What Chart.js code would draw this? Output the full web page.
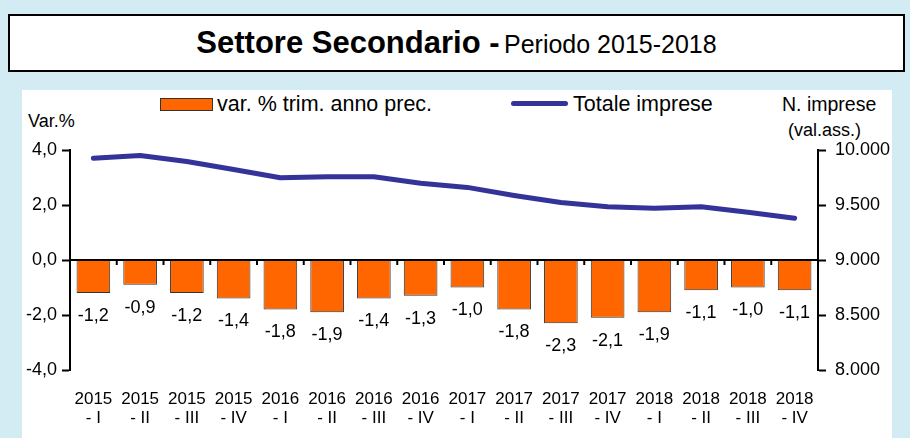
<!DOCTYPE html>
<html>
<head>
<meta charset="utf-8">
<script src="https://cdn.jsdelivr.net/npm/chart.js@4/dist/chart.umd.min.js"></script>
<style>
  html, body { margin: 0; padding: 0; }
  body { width: 910px; height: 438px; background: #d3ebf2; position: relative; overflow: hidden;
         font-family: "Liberation Sans", Arial, sans-serif; color: #000; }
  #titlebox { position: absolute; left: 8px; top: 14px; width: 893px; height: 54px;
              background: #fff; border: 2px solid #000; text-align: center; line-height: 54px; white-space: nowrap; }
  #titlebox b { font-size: 31px; font-weight: bold; }
  #titlebox span { font-size: 25px; }
  #panel { position: absolute; left: 22px; top: 90px; width: 870px; height: 348px; background: #fff; }
  canvas#c { position: absolute; left: 0; top: 0; }
  .txt { position: absolute; white-space: nowrap; line-height: 1; }
  #legBar { position: absolute; left: 160px; top: 98px; width: 51px; height: 11px; background: #ff6600; border: 1px solid #333; }
  #legLine { position: absolute; left: 511px; top: 101px; width: 57px; height: 5px; background: #333399; border-radius: 3px; }
</style>
</head>
<body>
<div id="titlebox"><b>Settore Secondario -</b> <span>Periodo 2015-2018</span></div>
<div id="panel"></div>
<div id="legBar"></div>
<div class="txt" style="left:217px; top:94px; font-size:21.5px;">var. % trim. anno prec.</div>
<div id="legLine"></div>
<div class="txt" style="left:573px; top:94px; font-size:21.5px;">Totale imprese</div>
<div class="txt" style="left:28px; top:112px; font-size:18px;">Var.%</div>
<div class="txt" style="left:782px; top:95px; font-size:19.5px;">N. imprese</div>
<div class="txt" style="left:788px; top:121px; font-size:18px;">(val.ass.)</div>
<canvas id="c" width="910" height="438"></canvas>
<script>
const years = ['2015','2015','2015','2015','2016','2016','2016','2016','2017','2017','2017','2017','2018','2018','2018','2018'];
const quarters = ['I','II','III','IV','I','II','III','IV','I','II','III','IV','I','II','III','IV'];
const varPerc = [-1.2, -0.9, -1.2, -1.4, -1.8, -1.9, -1.4, -1.3, -1.0, -1.8, -2.3, -2.1, -1.9, -1.1, -1.0, -1.1];
const totaleImprese = [9925, 9950, 9895, 9823, 9748, 9757, 9756, 9697, 9660, 9587, 9522, 9485, 9470, 9485, 9435, 9380];
const leftTicks = [-4, -2, 0, 2, 4];
const rightTicks = [8000, 8500, 9000, 9500, 10000];

const labels = years.map((y, i) => [y, '- ' + quarters[i]]);
const FONT = '"Liberation Sans", Arial, sans-serif';

function fmtThousands(v) {
  return String(Math.round(v)).replace(/\B(?=(\d{3})+(?!\d))/g, '.');
}

const extras = {
  id: 'extras',
  afterDatasetsDraw(chart) {
    const ctx = chart.ctx;
    const x = chart.scales.x, y = chart.scales.y;
    const y0 = y.getPixelForValue(0);
    ctx.save();
    ctx.strokeStyle = '#000';
    ctx.lineWidth = 2;
    ctx.beginPath();
    ctx.moveTo(chart.chartArea.left, y0);
    ctx.lineTo(chart.chartArea.right, y0);
    ctx.stroke();
    for (let i = 1; i < labels.length; i++) {
      const xb = (x.getPixelForValue(i - 1) + x.getPixelForValue(i)) / 2;
      ctx.beginPath();
      ctx.moveTo(xb, y0);
      ctx.lineTo(xb, y0 + 5);
      ctx.stroke();
    }
    const meta = chart.getDatasetMeta(1);
    ctx.fillStyle = '#000';
    ctx.font = '18px ' + FONT;
    ctx.textAlign = 'center';
    ctx.textBaseline = 'middle';
    meta.data.forEach((bar, i) => {
      ctx.fillText(varPerc[i].toFixed(1).replace('.', ','), bar.x, bar.y + 23);
    });
    ctx.restore();
  }
};

new Chart(document.getElementById('c'), {
  data: {
    labels: labels,
    datasets: [
      {
        type: 'line',
        label: 'Totale imprese',
        data: totaleImprese,
        yAxisID: 'y2',
        borderColor: '#333399',
        borderWidth: 5,
        pointRadius: 0,
        tension: 0,
        borderCapStyle: 'round',
        borderJoinStyle: 'round',
        order: 0
      },
      {
        type: 'bar',
        label: 'var. % trim. anno prec.',
        data: varPerc,
        yAxisID: 'y',
        backgroundColor: '#ff6600',
        borderColor: '#333333',
        borderWidth: 1,
        categoryPercentage: 1,
        barPercentage: 0.72,
        order: 1
      }
    ]
  },
  options: {
    responsive: false,
    animation: false,
    layout: { padding: { top: 150, left: 0, right: 0, bottom: 0 } },
    plugins: { legend: { display: false }, tooltip: { enabled: false }, title: { display: false } },
    scales: {
      x: {
        grid: { display: false, drawTicks: false },
        border: { display: false },
        ticks: { color: '#000', font: { family: FONT, size: 17, lineHeight: 1.12 }, padding: 20, maxRotation: 0, autoSkip: false },
        afterFit(s) { s.height = 68; }
      },
      y: {
        position: 'left',
        min: -4, max: 4,
        afterBuildTicks(s) { s.ticks = leftTicks.map(v => ({ value: v })); },
        grid: { display: true, drawOnChartArea: false, drawTicks: true, tickLength: 8, tickColor: '#000', tickWidth: 2 },
        border: { display: true, color: '#000', width: 2 },
        ticks: { color: '#000', font: { family: FONT, size: 18 }, padding: 5,
                 callback: v => Number(v).toFixed(1).replace('.', ',') },
        afterFit(s) { s.width = 70; }
      },
      y2: {
        position: 'right',
        min: 8000, max: 10000,
        afterBuildTicks(s) { s.ticks = rightTicks.map(v => ({ value: v })); },
        grid: { display: true, drawOnChartArea: false, drawTicks: true, tickLength: 8, tickColor: '#000', tickWidth: 2 },
        border: { display: true, color: '#000', width: 2 },
        ticks: { color: '#000', font: { family: FONT, size: 18 }, padding: 9,
                 callback: v => fmtThousands(v) },
        afterFit(s) { s.width = 92; }
      }
    }
  },
  plugins: [extras]
});
</script>
</body>
</html>
